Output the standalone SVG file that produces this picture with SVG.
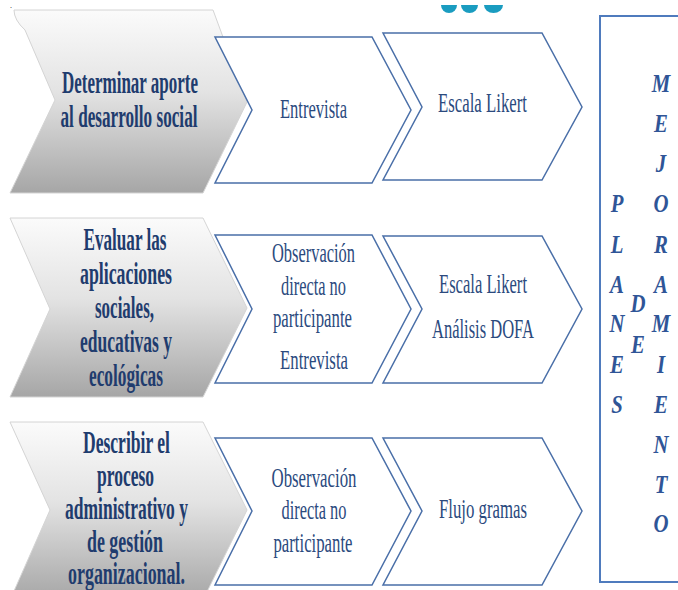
<svg xmlns="http://www.w3.org/2000/svg" width="678" height="590" viewBox="0 0 678 590">
<defs>
<linearGradient id="g1" x1="0" y1="0" x2="0" y2="1">
<stop offset="0" stop-color="#fbfbfb"/>
<stop offset="0.45" stop-color="#e3e3e3"/>
<stop offset="1" stop-color="#a6a6a6"/>
</linearGradient>
<style>
.gray{fill:url(#g1);stroke:#d4d4d4;stroke-width:1}
.box{fill:#ffffff;stroke:#4a6fa8;stroke-width:1.5}
.bold{font-family:"Liberation Serif","Times New Roman",serif;font-weight:bold;font-size:31px;fill:#1f3c6e;text-anchor:middle}
.reg{font-family:"Liberation Serif","Times New Roman",serif;font-size:27px;fill:#2b4a7e;text-anchor:middle}
.let{font-family:"Liberation Serif","Times New Roman",serif;font-weight:bold;font-style:italic;font-size:26px;fill:#2f5597;text-anchor:middle}
.dot{fill:#1a9cc0}
</style>
</defs>
<rect width="678" height="590" fill="#ffffff"/>
<text x="10" y="8" font-family="Liberation Serif, serif" font-size="8" fill="#000">.</text>
<path class="dot" d="M441,5 A8,8 0 0 0 457,5 Z"/>
<path class="dot" d="M461,5 A8.5,8 0 0 0 478,5 Z"/>
<path class="dot" d="M484,5 A9.5,8 0 0 0 503,5 Z"/>

<g id="obj1">
<path class="gray" d="M14,10 L213,10 L247,102 L203,193 L10,193 L55,100 L25,30 Q14,20 14,10 Z"/>
<text class="bold" x="130" y="93" textLength="136" lengthAdjust="spacingAndGlyphs">Determinar aporte</text>
<text class="bold" x="129" y="127" textLength="137" lengthAdjust="spacingAndGlyphs">al desarrollo social</text>
</g>
<g id="obj2">
<path class="gray" d="M10,218 L203,218 L247,308 L203,397 L10,397 L50,309 Z"/>
<text class="bold" x="125" y="250" textLength="83" lengthAdjust="spacingAndGlyphs">Evaluar las</text>
<text class="bold" x="126" y="284" textLength="92" lengthAdjust="spacingAndGlyphs">aplicaciones</text>
<text class="bold" x="124.5" y="318" textLength="59" lengthAdjust="spacingAndGlyphs">sociales,</text>
<text class="bold" x="126" y="352" textLength="92" lengthAdjust="spacingAndGlyphs">educativas y</text>
<text class="bold" x="126" y="386" textLength="74" lengthAdjust="spacingAndGlyphs">ecológicas</text>
</g>
<g id="obj3">
<path class="gray" d="M10,422 L203,422 L247,510 L203,600 L10,600 L50,510 Z"/>
<text class="bold" x="126.5" y="453" textLength="87" lengthAdjust="spacingAndGlyphs">Describir el</text>
<text class="bold" x="125.5" y="486" textLength="57" lengthAdjust="spacingAndGlyphs">proceso</text>
<text class="bold" x="126.5" y="519" textLength="123" lengthAdjust="spacingAndGlyphs">administrativo y</text>
<text class="bold" x="125" y="552" textLength="76" lengthAdjust="spacingAndGlyphs">de gestión</text>
<text class="bold" x="126.5" y="584" textLength="117" lengthAdjust="spacingAndGlyphs">organizacional.</text>
</g>

<g id="tech1">
<path class="box" d="M215,37 L372,37 L411,110 L372,183 L215,183 L252,110 Z"/>
<text class="reg" x="313.5" y="118" textLength="67" lengthAdjust="spacingAndGlyphs">Entrevista</text>
</g>
<g id="inst1">
<path class="box" d="M383,33 L542,33 L582,107 L542,180 L383,180 L422,107 Z"/>
<text class="reg" x="482.5" y="112" textLength="89" lengthAdjust="spacingAndGlyphs">Escala Likert</text>
</g>
<g id="tech2">
<path class="box" d="M215,235 L372,235 L411,309 L372,383 L215,383 L252,309 Z"/>
<text class="reg" x="313.5" y="262" textLength="83" lengthAdjust="spacingAndGlyphs">Observación</text>
<text class="reg" x="313.5" y="295" textLength="65" lengthAdjust="spacingAndGlyphs">directa no</text>
<text class="reg" x="312.5" y="327" textLength="79" lengthAdjust="spacingAndGlyphs">participante</text>
<text class="reg" x="314" y="369" textLength="68" lengthAdjust="spacingAndGlyphs">Entrevista</text>
</g>
<g id="inst2">
<path class="box" d="M383,236 L542,236 L582,309 L542,383 L383,383 L422,309 Z"/>
<text class="reg" x="483" y="293" textLength="88" lengthAdjust="spacingAndGlyphs">Escala Likert</text>
<text class="reg" x="483" y="338" textLength="102" lengthAdjust="spacingAndGlyphs">Análisis DOFA</text>
</g>
<g id="tech3">
<path class="box" d="M215,438 L372,438 L411,511 L372,585 L215,585 L252,511 Z"/>
<text class="reg" x="314" y="487" textLength="85" lengthAdjust="spacingAndGlyphs">Observación</text>
<text class="reg" x="314" y="519" textLength="65" lengthAdjust="spacingAndGlyphs">directa no</text>
<text class="reg" x="313" y="552" textLength="79" lengthAdjust="spacingAndGlyphs">participante</text>
</g>
<g id="inst3">
<path class="box" d="M383,438 L542,438 L582,511 L542,585 L383,585 L422,511 Z"/>
<text class="reg" x="483" y="518" textLength="88" lengthAdjust="spacingAndGlyphs">Flujo gramas</text>
</g>

<g id="planes">
<rect x="600" y="16" width="100" height="566" fill="#ffffff" stroke="#4f7bbd" stroke-width="2"/>
<g transform="translate(617,0) scale(0.8,1)">
<text class="let" x="0" y="212">P</text>
<text class="let" x="0" y="253">L</text>
<text class="let" x="0" y="293">A</text>
<text class="let" x="0" y="332">N</text>
<text class="let" x="0" y="373">E</text>
<text class="let" x="0" y="413">S</text>
</g>
<g transform="translate(638,0) scale(0.8,1)">
<text class="let" x="0" y="312">D</text>
<text class="let" x="0" y="353">E</text>
</g>
<g transform="translate(661,0) scale(0.8,1)">
<text class="let" x="0" y="92">M</text>
<text class="let" x="0" y="132">E</text>
<text class="let" x="0" y="172">J</text>
<text class="let" x="0" y="212">O</text>
<text class="let" x="0" y="253">R</text>
<text class="let" x="0" y="293">A</text>
<text class="let" x="0" y="332">M</text>
<text class="let" x="0" y="373">I</text>
<text class="let" x="0" y="413">E</text>
<text class="let" x="0" y="453">N</text>
<text class="let" x="0" y="493">T</text>
<text class="let" x="0" y="532">O</text>
</g>
</g>
<g id="connectors"/>
</svg>
